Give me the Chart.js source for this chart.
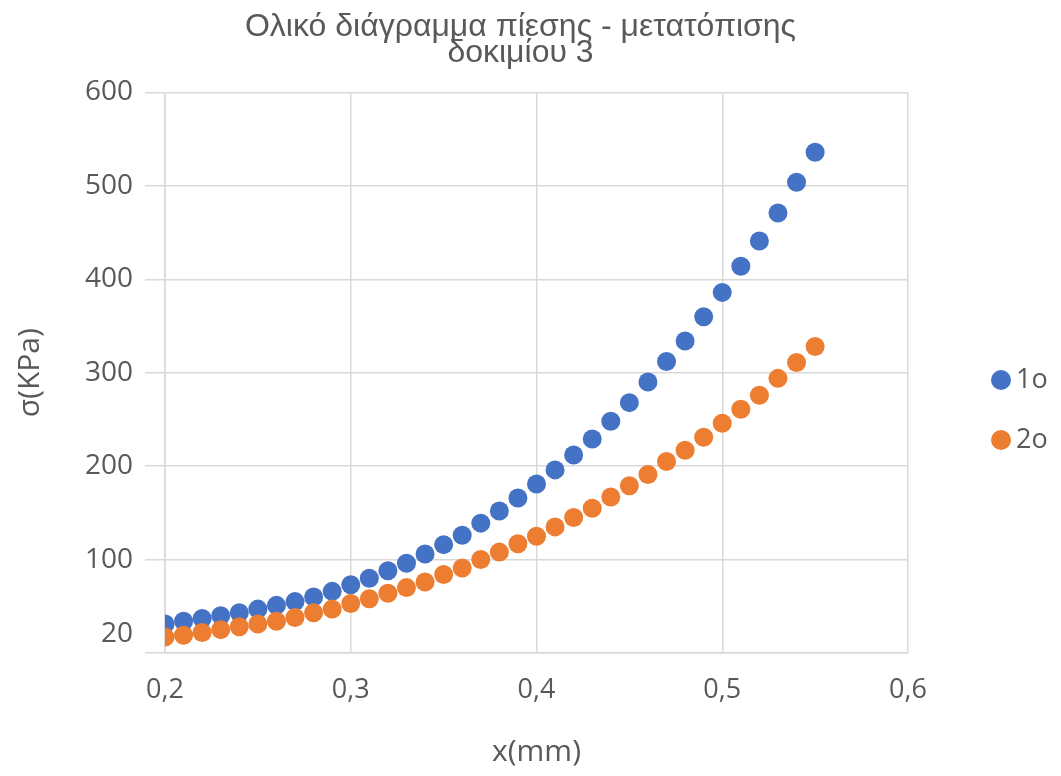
<!DOCTYPE html>
<html lang="el">
<head>
<meta charset="UTF-8">
<title>Ολικό διάγραμμα πίεσης - μετατόπισης δοκιμίου 3</title>
<script src="https://cdn.jsdelivr.net/npm/chart.js"></script>
<style>
  body { margin: 0; background: #fff; }
  #chart { display: block; }
</style>
</head>
<body>
<canvas id="chart" width="1061" height="776"></canvas>
<script>
// x positions (mm) shared by both series
const xValues = [0.20, 0.21, 0.22, 0.23, 0.24, 0.25, 0.26, 0.27, 0.28, 0.29,
                 0.30, 0.31, 0.32, 0.33, 0.34, 0.35, 0.36, 0.37, 0.38, 0.39,
                 0.40, 0.41, 0.42, 0.43, 0.44, 0.45, 0.46, 0.47, 0.48, 0.49,
                 0.50, 0.51, 0.52, 0.53, 0.54, 0.55];
// σ (KPa)
const series1 = [31, 34, 37, 40, 43, 47, 51, 55, 60, 66,
                 73, 80, 88, 96, 106, 116, 126, 139, 152, 166,
                 181, 196, 212, 229, 248, 268, 290, 312, 334, 360,
                 386, 414, 441, 471, 504, 536];
const series2 = [17, 19, 22, 25, 28, 31, 34, 38, 43, 47,
                 53, 58, 64, 70, 76, 84, 91, 100, 108, 117,
                 125, 135, 145, 155, 167, 179, 191, 205, 217, 231,
                 246, 261, 276, 294, 311, 328];
const seriesNames = ['1o', '2o'];
const yTickValues = [0, 20, 100, 200, 300, 400, 500, 600];
const xTickValues = [0.2, 0.3, 0.4, 0.5, 0.6];

const textColor = '#595959';
const gridColor = '#d9d9d9';
const colors = ['#4472C4', '#ED7D31'];

const toPoints = ys => ys.map((y, i) => ({ x: xValues[i], y: y }));

// simple legend on the right, like the spreadsheet one
const sideLegend = {
  id: 'sideLegend',
  afterDraw(chart) {
    const ctx = chart.ctx;
    ctx.save();
    ctx.font = '27px "Open Sans"';
    ctx.textBaseline = 'middle';
    chart.data.datasets.forEach((ds, i) => {
      const y = 380 + i * 60;
      ctx.fillStyle = ds.backgroundColor;
      ctx.beginPath();
      ctx.arc(1001, y, 10, 0, Math.PI * 2);
      ctx.fill();
      ctx.fillStyle = textColor;
      ctx.fillText(ds.label, 1016, y);
    });
    ctx.restore();
  }
};

new Chart(document.getElementById('chart'), {
  type: 'scatter',
  data: {
    datasets: [
      { label: seriesNames[0], data: toPoints(series1), backgroundColor: colors[0],
        borderWidth: 0, pointRadius: 9.5, order: 1 },
      { label: seriesNames[1], data: toPoints(series2), backgroundColor: colors[1],
        borderWidth: 0, pointRadius: 9.5, order: 0 }
    ]
  },
  options: {
    responsive: false,
    animation: false,
    layout: { padding: { left: 0, right: 20, top: 0, bottom: 0 } },
    plugins: {
      legend: { display: false },
      tooltip: { enabled: false },
      title: {
        display: true,
        text: ['Ολικό διάγραμμα πίεσης - μετατόπισης', 'δοκιμίου 3'],
        color: textColor,
        font: { family: '"Liberation Sans", Arial, sans-serif', size: 32, weight: 'normal', lineHeight: 0.82 },
        padding: { top: 14, bottom: 26 }
      }
    },
    scales: {
      x: {
        type: 'linear',
        min: 0.2,
        max: 0.6,
        afterBuildTicks: s => { s.ticks = xTickValues.map(v => ({ value: v })); },
        afterFit: s => { s.height = 123; },
        grid: { color: gridColor, lineWidth: 1.5, drawTicks: false },
        border: { color: gridColor, width: 1.5 },
        ticks: {
          color: textColor,
          padding: 21,
          font: { family: '"Open Sans"', size: 27 },
          callback: v => v.toFixed(1).replace('.', ',')
        },
        title: {
          display: true,
          text: 'x(mm)',
          color: textColor,
          font: { family: '"Open Sans"', size: 30 },
          padding: { top: 0, bottom: 6 }
        }
      },
      y: {
        min: 0,
        max: 600,
        afterBuildTicks: s => { s.ticks = yTickValues.map(v => ({ value: v })); },
        afterFit: s => { s.width = 165; },
        grid: {
          color: c => (c.tick && c.tick.value === 20) ? 'rgba(0,0,0,0)' : gridColor,
          lineWidth: 1.5,
          tickLength: 20
        },
        border: { color: gridColor, width: 1.5 },
        ticks: {
          color: textColor,
          padding: 12,
          font: { family: '"Open Sans"', size: 28 },
          callback: v => v === 0 ? '' : String(v)
        },
        title: {
          display: true,
          text: 'σ(KPa)',
          color: textColor,
          font: { family: '"Open Sans"', size: 30 },
          padding: { top: 12, bottom: 0 }
        }
      },
      // empty box on the right that leaves room for the legend
      side: {
        type: 'linear',
        position: 'right',
        min: 0,
        max: 1,
        afterFit: s => { s.width = 133; },
        grid: { display: false },
        border: { display: false },
        ticks: { display: false }
      }
    }
  },
  plugins: [sideLegend]
});
</script>
</body>
</html>
